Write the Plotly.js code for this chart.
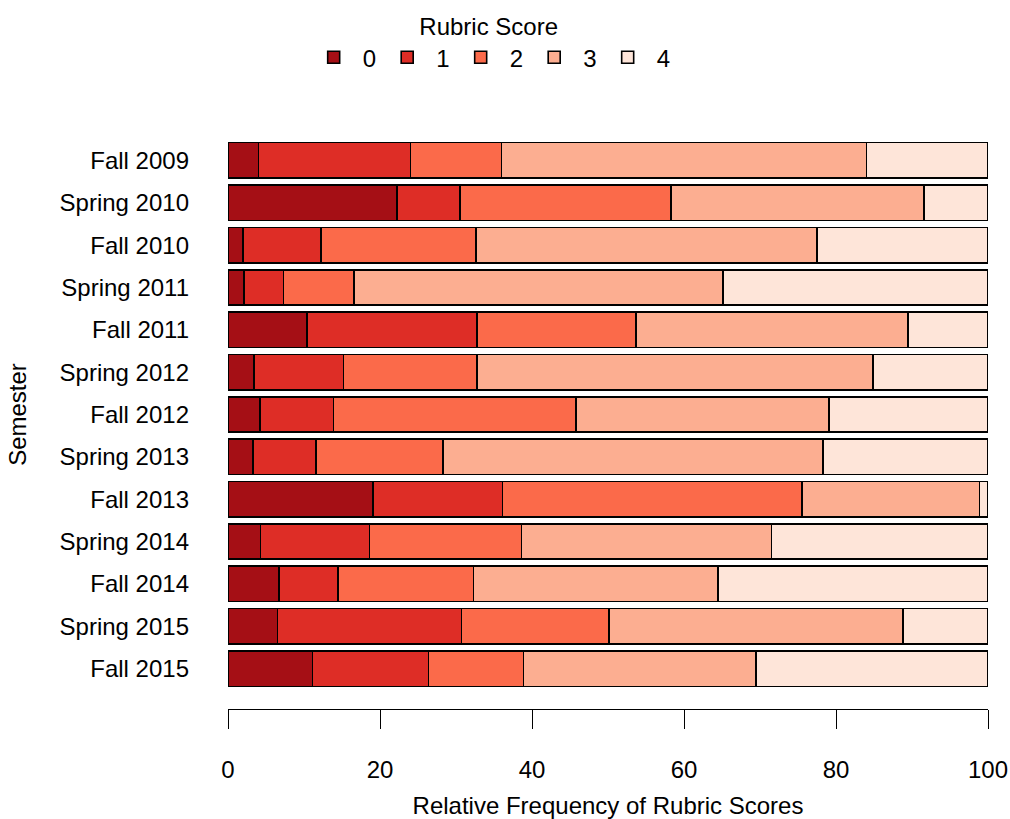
<!DOCTYPE html>
<html>
<head>
<meta charset="utf-8">
<script src="https://cdn.plot.ly/plotly-3.0.1.min.js"></script>
<style>html,body{margin:0;padding:0;background:#fff;}#chart{width:1010px;height:819px;}</style>
</head>
<body>
<div id="chart"></div>
<script>
var semesters = ['Fall 2009','Spring 2010','Fall 2010','Spring 2011','Fall 2011','Spring 2012','Fall 2012','Spring 2013','Fall 2013','Spring 2014','Fall 2014','Spring 2015','Fall 2015'];
var score0 = [4.0, 22.2, 2.0, 2.1, 10.4, 3.4, 4.2, 3.3, 19.1, 4.3, 6.7, 6.5, 11.1];
var score1 = [20.0, 8.3, 10.2, 5.2, 22.4, 11.8, 9.7, 8.3, 17.0, 14.3, 7.8, 24.2, 15.3];
var score2 = [12.0, 27.8, 20.4, 9.3, 20.9, 17.6, 31.9, 16.7, 39.4, 20.0, 17.8, 19.4, 12.5];
var score3 = [48.0, 33.3, 44.9, 48.5, 35.8, 52.1, 33.3, 50.0, 23.4, 32.9, 32.2, 38.7, 30.6];
var score4 = [16.0, 8.4, 22.5, 34.9, 10.5, 15.1, 20.9, 21.7, 1.1, 28.5, 35.5, 11.2, 30.5];
var scoreNames = ['0','1','2','3','4'];
var scoreColors = ['#A50F15','#DE2D26','#FB6A4A','#FCAE91','#FEE5D9'];
var xTicks = [0, 20, 40, 60, 80, 100];

var series = [score0, score1, score2, score3, score4];
var traces = series.map(function(vals, i) {
  return {
    type: 'bar',
    orientation: 'h',
    name: scoreNames[i],
    x: vals,
    y: semesters,
    marker: {color: scoreColors[i], line: {color: '#000000', width: 1.6}},
    hoverinfo: 'x+y+name'
  };
});

var font = {family: 'Liberation Sans, Arial, sans-serif', size: 24, color: '#000000'};

var layout = {
  width: 1010,
  height: 819,
  paper_bgcolor: '#ffffff',
  plot_bgcolor: '#ffffff',
  font: font,
  barmode: 'stack',
  bargap: 0.16,
  margin: {l: 228, r: 22, t: 120, b: 110, pad: 0, autoexpand: false},
  showlegend: true,
  legend: {
    orientation: 'h',
    x: 0.343, xanchor: 'center',
    y: 1.197, yanchor: 'top',
    traceorder: 'normal',
    itemwidth: 48,
    entrywidth: 10.5,
    entrywidthmode: 'pixels',
    font: font,
    title: {text: 'Rubric Score', side: 'top center', font: font}
  },
  xaxis: {
    range: [0, 100],
    tickvals: xTicks,
    ticktext: xTicks.map(String),
    showgrid: false,
    zeroline: false,
    showline: true,
    linecolor: '#000000',
    linewidth: 1.3,
    ticks: 'outside',
    ticklen: 19,
    tickwidth: 1.3,
    tickcolor: '#000000',
    ticklabelstandoff: 20,
    tickfont: font,
    fixedrange: true,
    title: {text: 'Relative Frequency of Rubric Scores', font: font, standoff: 18}
  },
  yaxis: {
    type: 'category',
    categoryorder: 'array',
    categoryarray: semesters,
    range: [12.956, -0.956],
    showgrid: false,
    zeroline: false,
    showline: false,
    ticks: '',
    ticklabelstandoff: 38,
    tickfont: font,
    fixedrange: true,
    title: {text: 'Semester', font: font, standoff: 26}
  }
};

Plotly.newPlot('chart', traces, layout, {displayModeBar: false, staticPlot: false});
</script>
</body>
</html>
